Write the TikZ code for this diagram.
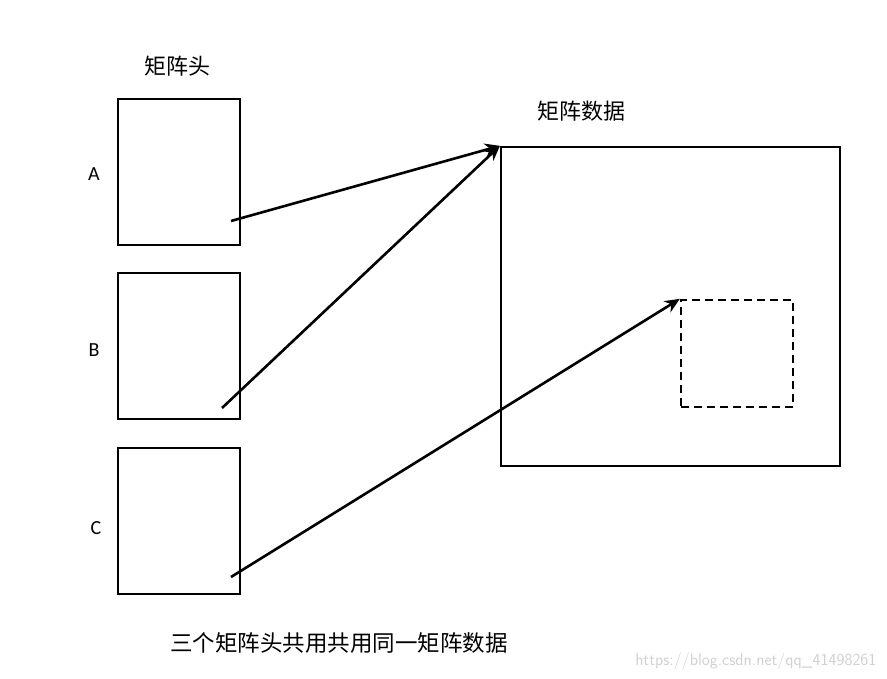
\documentclass[tikz,border=0pt]{standalone}
\usepackage{fontspec}
\setmainfont{Carlito}
\newfontfamily\cjk{Noto Sans CJK SC}
\usetikzlibrary{arrows.meta}

\begin{document}
\begin{tikzpicture}[
  x=1pt, y=-1pt,
  font=\fontsize{20}{24}\selectfont,
  hbox/.style  = {draw, line width=2.3pt, minimum width=122pt, minimum height=146pt,
                  inner sep=0pt},
  dbox/.style  = {draw, line width=2.3pt, minimum width=339pt, minimum height=319pt,
                  inner sep=0pt},
  sbox/.style  = {draw, line width=2.3pt, dash pattern=on 8pt off 5pt,
                  minimum width=112pt, minimum height=107pt, inner sep=0pt},
  fl/.style    = {-{Stealth[length=15pt,width=13pt]}, line width=2.6pt},
  lbl/.style   = {font=\fontsize{22}{26}\selectfont\cjk, inner sep=0pt},
]
\useasboundingbox (0,0) rectangle (887,679);

% ---------------- matrix heads -------------------------------------------
\node[hbox] (matA) at (179,172) {};
\node[hbox] (matB) at (179,346) {};
\node[hbox] (matC) at (179,521) {};

\node at (94,174)  (labA) {A};
\node at (94,350)  (labB) {B};
\node at (96,528)  (labC) {C};

\node[lbl] (head) at (177,66) {矩阵头};

% ---------------- matrix data --------------------------------------------
\node[dbox] (data) at (670.5,306.5) {};
\node[sbox] (sub)  at (737,353.5) {};
\node[lbl] (dlbl) at (581,111) {矩阵数据};

% ---------------- edges --------------------------------------------------
\coordinate (tailA) at (231,221);
\coordinate (tailB) at (222,408);
\coordinate (tailC) at (231,577);

\draw[fl] (tailA) -- (data.north west);
\draw[fl] (tailB) -- (data.north west);
\draw[fl] (tailC) -- (sub.north west);

% ---------------- caption ------------------------------------------------
\node[lbl, font=\fontsize{22.5}{27}\selectfont\cjk] (cap) at (339,643)
  {三个矩阵头共用共用同一矩阵数据};
\node[anchor=east, text=black!18, font=\fontsize{17}{20}\selectfont\sffamily]
  (mark) at (880,661) {https://blog.csdn.net/qq\_41498261};

\end{tikzpicture}
\end{document}
